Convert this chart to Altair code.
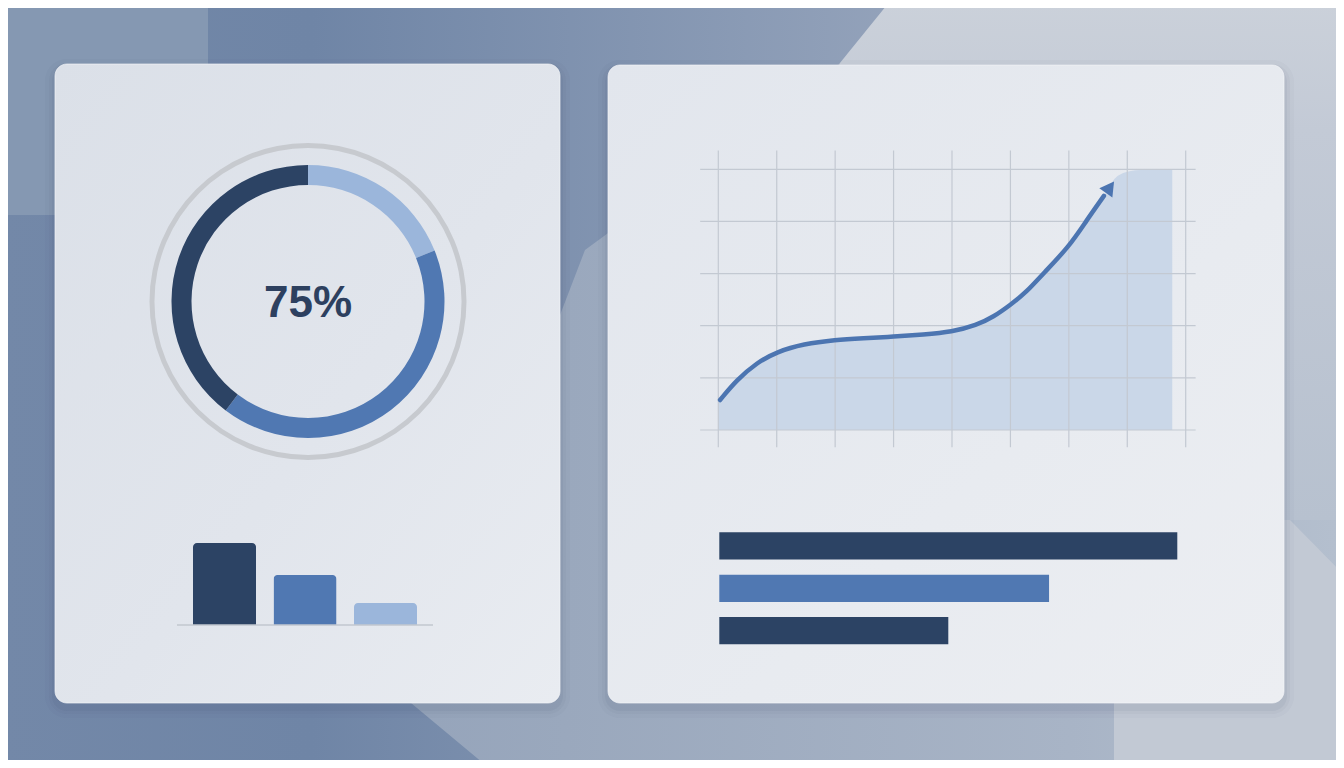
import altair as alt
import pandas as pd

# ---------------- data ----------------
donut_cats = ["light", "medium", "dark"]
donut_vals = [18.9, 41.4, 39.7]
donut_label = ["75%"]

col_cats = ["A", "B", "C"]
col_vals = [8.2, 5.0, 2.2]

hbar_cats = ["Row 1", "Row 2", "Row 3"]
hbar_vals = [100, 72, 50]

grid_x = [0, 1, 2, 3, 4, 5, 6, 7, 8]
grid_y = [0, 1, 2, 3, 4, 5]

curve_x = [0.03, 0.315, 0.66, 1.0, 1.46, 2.0, 2.48, 3.0, 3.51, 4.0, 4.42, 4.71,
           5.0, 5.28, 5.56, 6.0, 6.31, 6.6]
curve_y = [0.575, 0.96, 1.29, 1.50, 1.65, 1.73, 1.76, 1.79, 1.83, 1.88, 2.01, 2.17,
           2.40, 2.65, 3.0, 3.51, 4.03, 4.49]
arrow_x = [6.68]
arrow_y = [4.62]
area_x = [0.0] + curve_x + [6.72, 6.86, 7.77]
area_y = [0.52] + curve_y + [4.70, 5.0, 5.0]

# ---------------- style ----------------
W, H = 1328, 752
OFF = 8
NAVY = "#2c4364"
MID = "#5078b2"
LIGHT = "#9bb6db"


def px(v):
    return v - OFF


def grad(stops, x1=0, y1=0, x2=1, y2=0):
    return alt.LinearGradient(
        gradient="linear",
        stops=[alt.GradientStop(color=c, offset=o) for o, c in stops],
        x1=x1, y1=y1, x2=x2, y2=y2,
    )


one = pd.DataFrame({"k": [0]})
CX = alt.Scale(domain=[OFF, OFF + W], range=[0, W])
CY = alt.Scale(domain=[OFF, OFF + H], range=[0, H])

layers = []

# background base
layers.append(
    alt.Chart(one).mark_rect(
        color=grad([(0, "#8a9bb5"), (0.42, "#9aa8bd"), (0.8, "#a8b4c6"), (1, "#b4bfce")])
    ).encode(x=alt.value(0), x2=alt.value(W), y=alt.value(0), y2=alt.value(H))
)

# dark region (left / top-middle)
dark_df = pd.DataFrame({"y": [0, 63, 250, 703, 768],
                        "x0": [0, 0, 0, 0, 0],
                        "x1": [891, 840, 585, 411, 489]})
layers.append(
    alt.Chart(dark_df).mark_area(
        orient="horizontal",
        color=grad([(0, "#7388a8"), (0.35, "#6f85a6"), (1, "#93a2ba")]),
    ).encode(
        y=alt.Y("y:Q", scale=CY, axis=None),
        x=alt.X("x0:Q", scale=CX, axis=None, stack=None),
        x2="x1:Q",
    )
)

# top-left lighter block
layers.append(
    alt.Chart(one).mark_rect(color="#8598b2").encode(
        x=alt.value(px(0)), x2=alt.value(px(208)), y=alt.value(px(0)), y2=alt.value(px(215))
    )
)

# light top-right region
light_df = pd.DataFrame({"y": [0, 63, 520],
                         "x0": [891, 840, 640],
                         "x1": [1344, 1344, 1344]})
layers.append(
    alt.Chart(light_df).mark_area(
        orient="horizontal",
        color=grad([(0, "#cbd1da"), (0.25, "#c3cad6"), (1, "#b7c1cf")], 0, 0, 0, 1),
    ).encode(
        y=alt.Y("y:Q", scale=CY, axis=None),
        x=alt.X("x0:Q", scale=CX, axis=None, stack=None),
        x2="x1:Q",
    )
)

# light bottom-right region
br_df = pd.DataFrame({"x": [1114, 1290, 1344], "y0": [520, 520, 575], "y1": [768, 768, 768]})
layers.append(
    alt.Chart(br_df).mark_area(color="#c2c9d4").encode(
        x=alt.X("x:Q", scale=CX, axis=None),
        y=alt.Y("y0:Q", scale=CY, axis=None, stack=None),
        y2="y1:Q",
    )
)

# cards (shadow + body)
cards = [
    (55, 64, 560, 703, [(0, "#dbe0e8"), (0.55, "#e1e5ec"), (1, "#e9ecf1")]),
    (608, 65, 1284, 703, [(0, "#e2e6ed"), (0.6, "#e8ebf0"), (1, "#eceef2")]),
]
for (l, t, r, b, stops) in cards:
    for e, op in [(10, 0.025), (6, 0.035), (3, 0.05)]:
        layers.append(
            alt.Chart(one).mark_rect(color="#2f3f5c", opacity=op, cornerRadius=12 + e).encode(
                x=alt.value(px(l - e)), x2=alt.value(px(r + e)),
                y=alt.value(px(t - e + 5)), y2=alt.value(px(b + e + 5)),
            )
        )
    layers.append(
        alt.Chart(one).mark_rect(
            color=grad(stops, 0, 0, 1, 1), cornerRadius=12,
            stroke="#f3f5f8", strokeWidth=1, strokeOpacity=0.7,
        ).encode(
            x=alt.value(px(l)), x2=alt.value(px(r)), y=alt.value(px(t)), y2=alt.value(px(b))
        )
    )

# donut
CXD, CYD = px(308), px(301.5)
layers.append(
    alt.Chart(one).mark_arc(
        radius=158.5, radius2=153.5, theta=0, theta2=6.2832, color="#c7cacf"
    ).encode(x=alt.value(CXD), y=alt.value(CYD))
)
donut_df = pd.DataFrame({"cat": donut_cats, "v": donut_vals, "o": [0, 1, 2]})
layers.append(
    alt.Chart(donut_df).mark_arc(radius=136.5, radius2=116.5).encode(
        theta=alt.Theta("v:Q", stack=True),
        color=alt.Color("cat:N", scale=alt.Scale(domain=donut_cats, range=[LIGHT, MID, NAVY]), legend=None),
        order=alt.Order("o:Q"),
        x=alt.value(CXD),
        y=alt.value(CYD),
    )
)
layers.append(
    alt.Chart(pd.DataFrame({"label": donut_label})).mark_text(
        font="Liberation Sans", fontWeight="bold", fontSize=44, color="#2d405f",
        align="center", baseline="middle",
    ).encode(text="label:N", x=alt.value(px(308)), y=alt.value(px(304)))
)

# small column chart
col_df = pd.DataFrame({"c": col_cats, "v": col_vals})
COLX = alt.Scale(domain=col_cats, range=[px(193), px(417)], paddingInner=0.217, paddingOuter=0)
COLY = alt.Scale(domain=[0, 10], range=[px(625), px(525)])
layers.append(
    alt.Chart(col_df).mark_bar(cornerRadiusTopLeft=4, cornerRadiusTopRight=4).encode(
        x=alt.X("c:N", scale=COLX, axis=None),
        y=alt.Y("v:Q", scale=COLY, axis=None),
        color=alt.Color("c:N", scale=alt.Scale(domain=col_cats, range=[NAVY, MID, LIGHT]), legend=None),
    )
)
layers.append(
    alt.Chart(pd.DataFrame({"y": [0]})).mark_rule(color="#c2c7cf", strokeWidth=1.5).encode(
        y=alt.Y("y:Q", scale=COLY, axis=None), x=alt.value(px(177)), x2=alt.value(px(433))
    )
)

# line chart
LX = alt.Scale(domain=[0, 8], range=[px(718.3), px(1185.7)])
LY = alt.Scale(domain=[0, 5], range=[px(430), px(169.3)])
area_df = pd.DataFrame({"x": area_x, "y": area_y, "b": [0.0] * len(area_x)})
layers.append(
    alt.Chart(area_df).mark_area(color="#cad7e8", interpolate="basis").encode(
        x=alt.X("x:Q", scale=LX, axis=None),
        y=alt.Y("y:Q", scale=LY, axis=None, stack=None),
        y2="b:Q",
    )
)
vg = pd.DataFrame({"x": grid_x, "y0": [-0.33] * len(grid_x), "y1": [5.36] * len(grid_x)})
layers.append(
    alt.Chart(vg).mark_rule(color="#c3c9d2", strokeWidth=1.2).encode(
        x=alt.X("x:Q", scale=LX, axis=None), y=alt.Y("y0:Q", scale=LY, axis=None), y2="y1:Q"
    )
)
hg = pd.DataFrame({"y": grid_y, "x0": [-0.31] * len(grid_y), "x1": [8.17] * len(grid_y)})
layers.append(
    alt.Chart(hg).mark_rule(color="#c3c9d2", strokeWidth=1.2).encode(
        y=alt.Y("y:Q", scale=LY, axis=None), x=alt.X("x0:Q", scale=LX, axis=None), x2="x1:Q"
    )
)
line_df = pd.DataFrame({"x": curve_x, "y": curve_y})
layers.append(
    alt.Chart(line_df).mark_line(color="#4c75b1", strokeWidth=4.5, strokeCap="round", interpolate="basis").encode(
        x=alt.X("x:Q", scale=LX, axis=None), y=alt.Y("y:Q", scale=LY, axis=None), order="x:Q"
    )
)
layers.append(
    alt.Chart(pd.DataFrame({"x": arrow_x, "y": arrow_y})).mark_point(
        shape="triangle", filled=True, size=260, angle=36, color="#4c75b1", opacity=1
    ).encode(x=alt.X("x:Q", scale=LX, axis=None), y=alt.Y("y:Q", scale=LY, axis=None))
)

# horizontal bars
hb_df = pd.DataFrame({"c": hbar_cats, "v": hbar_vals})
HBX = alt.Scale(domain=[0, 100], range=[px(719.3), px(1177.3)])
HBY = alt.Scale(domain=hbar_cats, range=[px(532.3), px(644.3)], paddingInner=0.358, paddingOuter=0)
layers.append(
    alt.Chart(hb_df).mark_bar().encode(
        y=alt.Y("c:N", scale=HBY, axis=None),
        x=alt.X("v:Q", scale=HBX, axis=None),
        color=alt.Color("c:N", scale=alt.Scale(domain=hbar_cats, range=[NAVY, MID, NAVY]), legend=None),
    )
)

chart = (
    alt.layer(*layers)
    .resolve_scale(x="independent", y="independent", color="independent", theta="independent")
    .properties(width=W, height=H, padding=0, autosize=alt.AutoSizeParams(type="none"),
                background="#9aa8bd")
    .configure_view(stroke=None)
)

chart.save("out.html", embed_options={"renderer": "svg", "actions": False})
